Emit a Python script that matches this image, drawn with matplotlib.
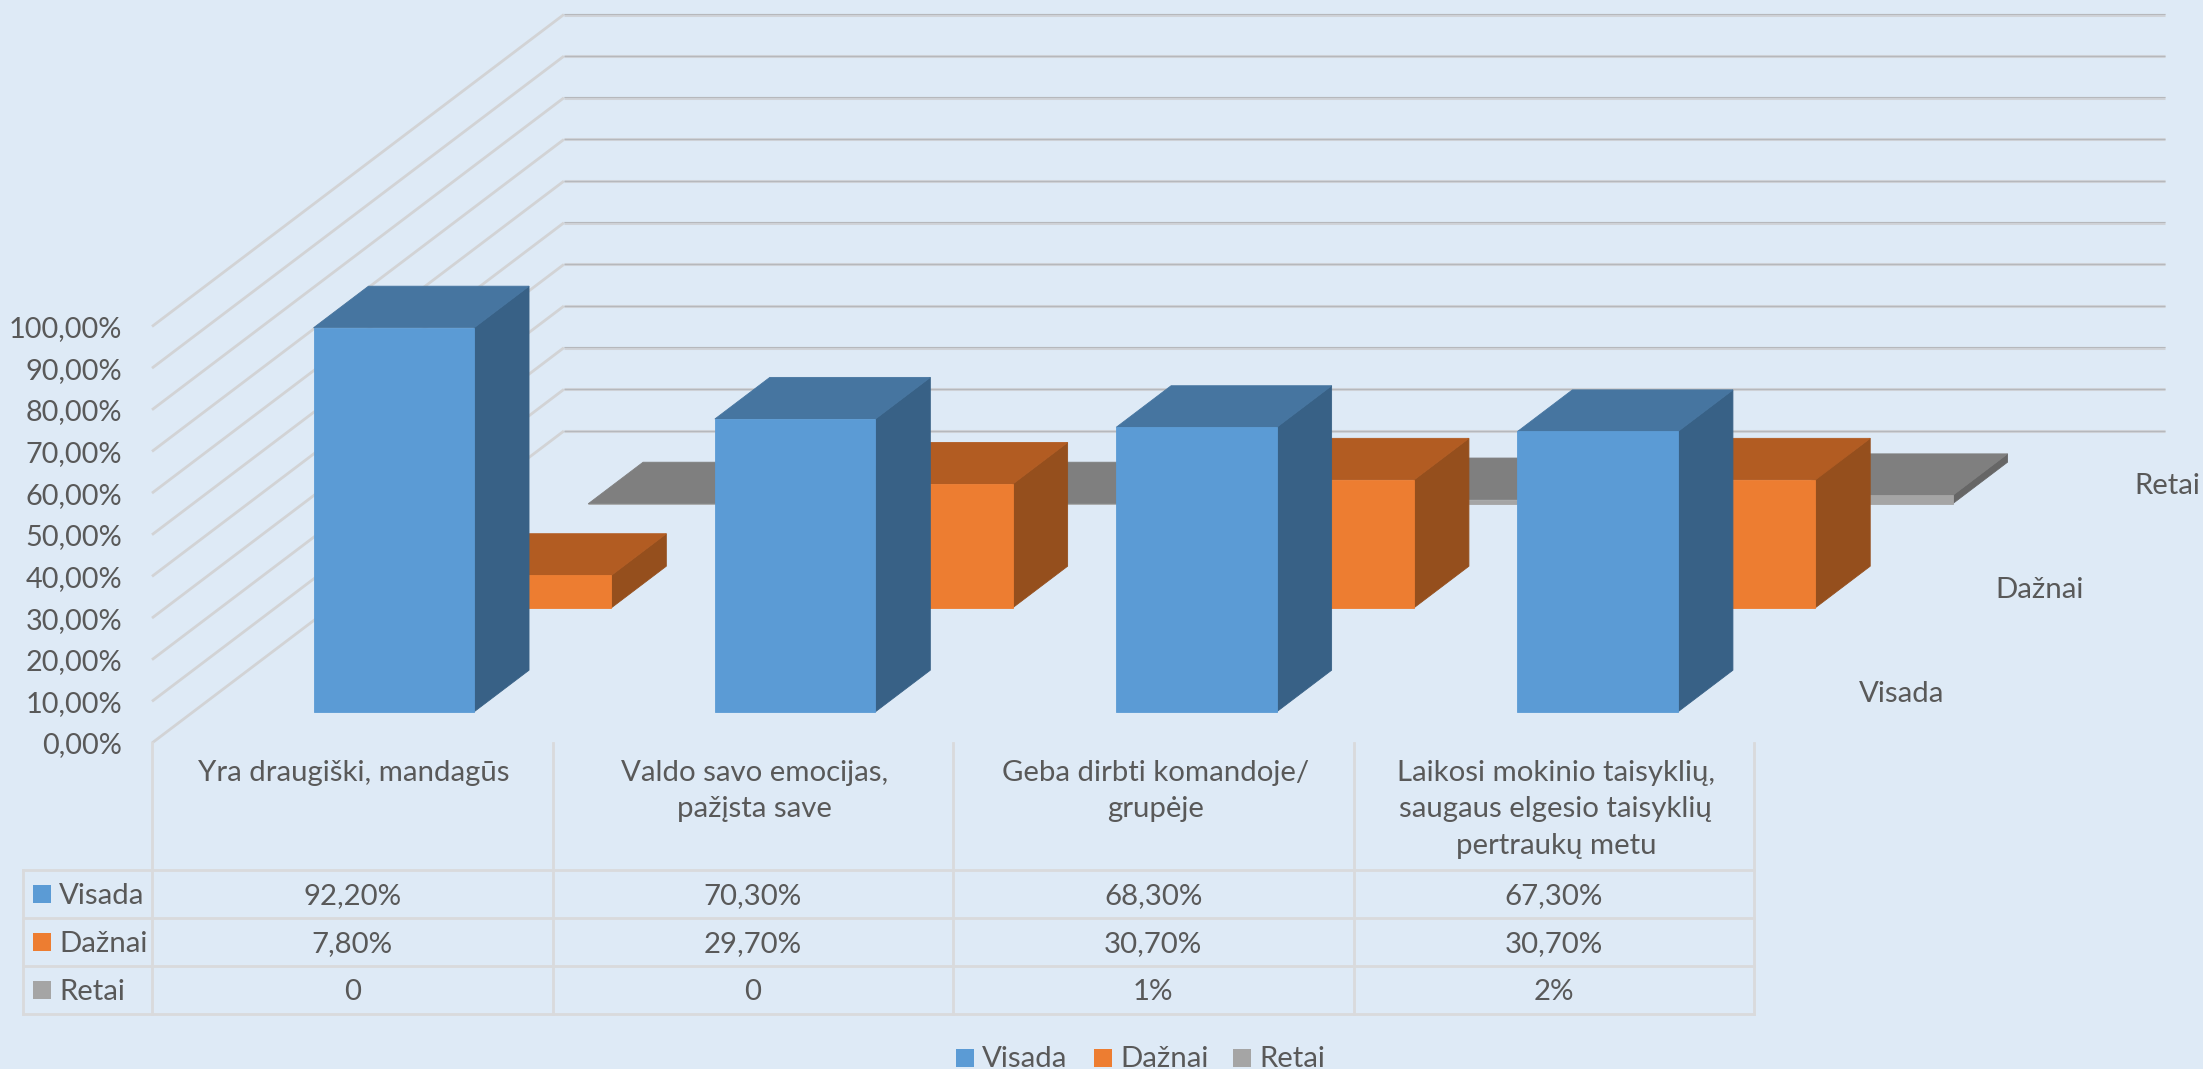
import matplotlib
matplotlib.use("Agg")
import matplotlib.pyplot as plt
from matplotlib.patches import Polygon, Rectangle

plt.rcParams['font.family'] = ['Lato', 'Noto Sans', 'DejaVu Sans']

categories = ["Yra draugiški, mandagūs",
              "Valdo savo emocijas,\npažįsta save",
              "Geba dirbti komandoje/\ngrupėje",
              "Laikosi mokinio taisyklių,\nsaugaus elgesio taisyklių\npertraukų metu"]
series = ["Visada", "Dažnai", "Retai"]
visada = [92.2, 70.3, 68.3, 67.3]
daznai = [7.8, 29.7, 30.7, 30.7]
retai = [0, 0, 1, 2]
visada_txt = ["92,20%", "70,30%", "68,30%", "67,30%"]
daznai_txt = ["7,80%", "29,70%", "30,70%", "30,70%"]
retai_txt = ["0", "0", "1%", "2%"]
ticks = [0, 10, 20, 30, 40, 50, 60, 70, 80, 90, 100]
tick_labels = ["0,00%", "10,00%", "20,00%", "30,00%", "40,00%", "50,00%",
               "60,00%", "70,00%", "80,00%", "90,00%", "100,00%"]

BG = "#DEEAF6"
TXT = "#595959"
GRID = "#D0D3D8"
GRID_DARK = "#B6B8BC"
TBL = "#D9DADC"
# front, top, side
colors = [("#5B9BD5", "#4675A0", "#386186"),
          ("#ED7D31", "#B25C22", "#954F1D"),
          ("#A5A5A5", "#7F7F7F", "#666666")]

# oblique projection of the excel 3d chart, in pixels
X0, Y0 = 152, 743
STEP = 401.3
DX, DY = 137.3, 104
PCT = 4.165
FS = 21.2
TXT_DY = 2.5


def proj(u, d, val):
    return X0 + u * STEP + d * DX, Y0 - val * PCT - d * DY


def draw_bar(ax, i, s, val, cols):
    u0, u1 = i + .3, i + .7
    d0, d1 = s + .3, s + .7
    side = [proj(u1, d0, 0), proj(u1, d1, 0), proj(u1, d1, val), proj(u1, d0, val)]
    top = [proj(u0, d0, val), proj(u1, d0, val), proj(u1, d1, val), proj(u0, d1, val)]
    front = [proj(u0, d0, 0), proj(u1, d0, 0), proj(u1, d0, val), proj(u0, d0, val)]
    for pts, c in ((side, cols[2]), (top, cols[1]), (front, cols[0])):
        ax.add_patch(Polygon(pts, closed=True, facecolor=c, edgecolor=c, lw=0.6, zorder=3))


fig = plt.figure(figsize=(22.03, 10.69), dpi=100, facecolor=BG)
ax = fig.add_axes([0, 0, 1, 1])
ax.set_xlim(0, 2203)
ax.set_ylim(1069, 0)
ax.axis("off")

# walls
for t, lab in zip(ticks, tick_labels):
    xa, ya = proj(0, 0, t)
    xb, yb = proj(0, 3, t)
    xc, yc = proj(3.99, 3, t)
    ax.plot([xa, xb], [ya, yb], color="#D2D3D5", lw=2, solid_capstyle="butt", zorder=1)
    ax.plot([xb, xc], [yb, yc], color=GRID, lw=2.2, solid_capstyle="butt", zorder=1)
    ax.plot([xb, xc], [yb - 0.5, yc - 0.5], color=GRID_DARK, lw=0.8, solid_capstyle="butt", zorder=2)
    ax.text(xa - 30, ya + TXT_DY, lab, ha="right", va="center", fontsize=20.8, color=TXT)

# bars, back to front
values = [visada, daznai, retai]
for s in (2, 1, 0):
    for i in range(len(categories)):
        draw_bar(ax, i, s, values[s][i], colors[s])

# depth axis labels
for s, name in enumerate(series):
    x, y = proj(4, s + .5, 0)
    ax.text(min(x + 76, 2167), y + TXT_DY, name, ha="center", va="center", fontsize=FS, color=TXT)

# data table
rows_y = [870, 918, 966, 1014]
left = 23
col_x = [152 + i * 400.5 for i in range(len(categories) + 1)]
for y in rows_y:
    ax.plot([left, col_x[-1]], [y, y], color=TBL, lw=2, zorder=1)
ax.plot([left, left], [rows_y[0], rows_y[-1]], color=TBL, lw=2, zorder=1)
for x in col_x:
    ax.plot([x, x], [Y0, rows_y[-1]], color=TBL, lw=2, zorder=1)

for i, cat in enumerate(categories):
    xc = (col_x[i] + col_x[i + 1]) / 2 + 2
    ax.text(xc, 760, cat, ha="center", va="top", fontsize=FS, color=TXT, linespacing=1.5)
    for r, txts in enumerate((visada_txt, daznai_txt, retai_txt)):
        ax.text(xc - 2, (rows_y[r] + rows_y[r + 1]) / 2 + TXT_DY, txts[i], ha="center", va="center",
                fontsize=FS, color=TXT)

for r, name in enumerate(series):
    yc = (rows_y[r] + rows_y[r + 1]) / 2
    ax.add_patch(Rectangle((33, yc - 9), 18, 18, facecolor=colors[r][0], edgecolor="none"))
    ax.text(59, yc + TXT_DY, name, ha="left", va="center", fontsize=FS, color=TXT)

# legend at the bottom
leg_x = [956, 1094, 1233]
for x, name, c in zip(leg_x, series, colors):
    ax.add_patch(Rectangle((x, 1049), 18, 18, facecolor=c[0], edgecolor="none"))
    ax.text(x + 26, 1059, name, ha="left", va="center", fontsize=FS, color=TXT)

fig.savefig("out.png", dpi=100, facecolor=BG)
